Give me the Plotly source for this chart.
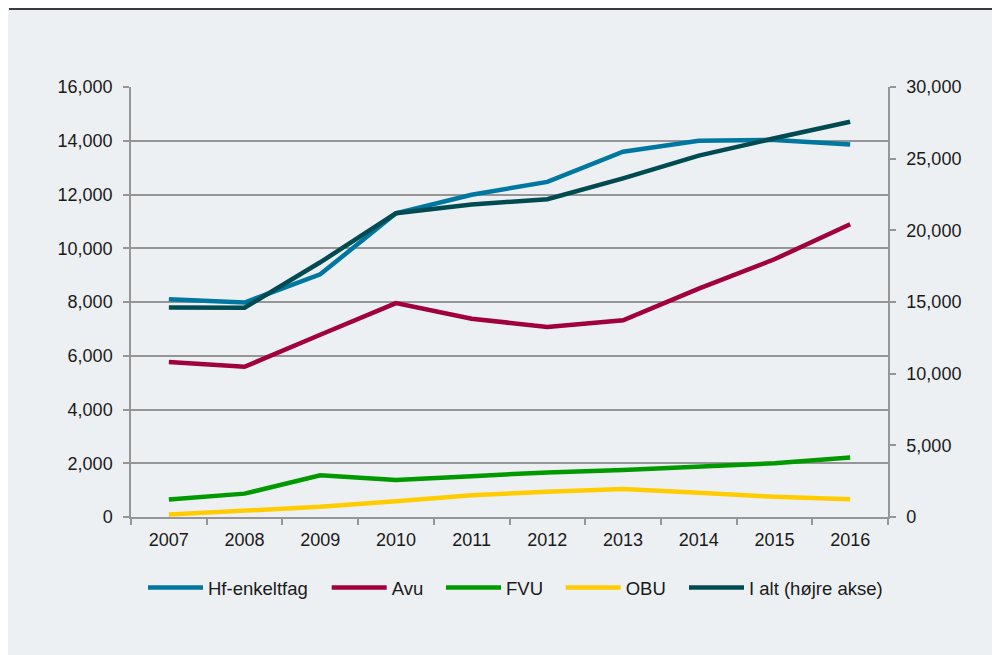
import plotly.graph_objects as go

years = ["2007", "2008", "2009", "2010", "2011", "2012", "2013", "2014", "2015", "2016"]
hf_enkeltfag = [8100, 7980, 9030, 11300, 11990, 12470, 13590, 14000, 14030, 13860]
avu = [5770, 5590, 6780, 7960, 7380, 7070, 7320, 8500, 9590, 10890]
fvu = [650, 870, 1550, 1380, 1520, 1660, 1750, 1860, 2000, 2210]
obu = [90, 220, 380, 590, 810, 940, 1040, 900, 750, 660]
i_alt = [14620, 14600, 17770, 21190, 21800, 22170, 23630, 25210, 26420, 27580]

names = ["Hf-enkeltfag", "Avu", "FVU", "OBU", "I alt (højre akse)"]
colors = ["#0077A0", "#A0003C", "#009900", "#FFCC00", "#004B52"]

BG = "#EDF0F3"
AX = "#969696"
TXT = "#1a1a1a"
FONT = "Liberation Sans, Arial, sans-serif"

W, H = 1000, 655
L, R, T, B = 123, 120, 79, 146
pw, ph = W - L - R, H - T - B

def px_x(p):
    return (p - L) / pw

def px_y(p):
    return (H - B - p) / ph

legend_ids = ["legend", "legend2", "legend3", "legend4", "legend5"]
legend_left = [135, 318.7, 433, 552.7, 676]

fig = go.Figure()
series = [hf_enkeltfag, avu, fvu, obu, i_alt]
for i, (vals, nm, col) in enumerate(zip(series, names, colors)):
    fig.add_trace(go.Scatter(x=years, y=vals, name=nm, mode="lines",
                             yaxis="y2" if i == 4 else "y",
                             legend=legend_ids[i],
                             line=dict(color=col, width=4.5)))

legend_layouts = {}
for lid, lx in zip(legend_ids, legend_left):
    legend_layouts[lid] = dict(orientation="h", x=px_x(lx), xanchor="left",
                               y=px_y(580), yanchor="middle", bgcolor="rgba(0,0,0,0)",
                               borderwidth=0, font=dict(size=18.5, color=TXT),
                               itemwidth=55)

fig.update_layout(
    width=W, height=H,
    margin=dict(l=L, r=R, t=T, b=B, pad=0),
    paper_bgcolor=BG, plot_bgcolor=BG,
    font=dict(family=FONT, size=18, color=TXT),
    showlegend=True,
    xaxis=dict(type="category", range=[-0.5, 9.5], showline=True, linecolor=AX, linewidth=1.5,
               ticks="outside", tickson="boundaries", ticklen=6, tickcolor=AX,
               tickwidth=1.5, showgrid=False, zeroline=False,
               tickfont=dict(size=18, color=TXT), ticklabelstandoff=6),
    yaxis=dict(range=[0, 16000], dtick=2000, tickformat=",", showgrid=True,
               gridcolor=AX, gridwidth=1.5, showline=True, linecolor=AX, linewidth=1.5,
               ticks="outside", ticklen=6, tickcolor=AX, tickwidth=1.5,
               zeroline=False, tickfont=dict(size=18, color=TXT), ticklabelstandoff=7),
    yaxis2=dict(range=[0, 30000], dtick=5000, tickformat=",", overlaying="y", side="right",
                showgrid=False, showline=True, linecolor=AX, linewidth=1.5,
                ticks="outside", ticklen=6, tickcolor=AX, tickwidth=1.5,
                zeroline=False, tickfont=dict(size=18, color=TXT), ticklabelstandoff=7),
    shapes=[dict(type="line", xref="paper", yref="paper",
                 x0=px_x(1), x1=px_x(W), y0=px_y(1), y1=px_y(1),
                 line=dict(color="#000000", width=1.5))],
    **legend_layouts,
)

fig.write_html("out.html")
